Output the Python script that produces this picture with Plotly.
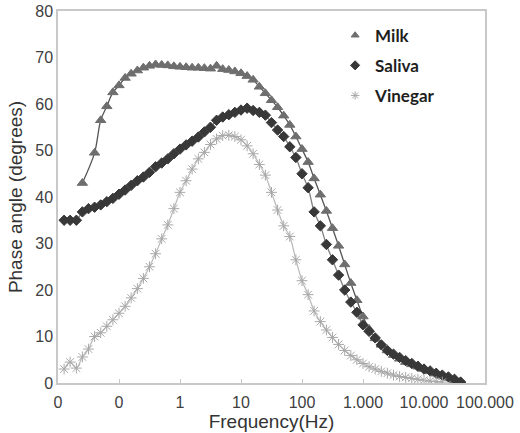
import plotly.graph_objects as go

# Frequency grid (Hz), 10 points per decade
freq = [0.01, 0.0126, 0.0158, 0.02, 0.0251, 0.0316, 0.0398, 0.0501, 0.0631, 0.0794,
        0.1, 0.126, 0.158, 0.2, 0.251, 0.316, 0.398, 0.501, 0.631, 0.794,
        1, 1.26, 1.58, 2, 2.51, 3.16, 3.98, 5.01, 6.31, 7.94,
        10, 12.6, 15.8, 20, 25.1, 31.6, 39.8, 50.1, 63.1, 79.4,
        100, 126, 158, 200, 251, 316, 398, 501, 631, 794,
        1000, 1259, 1585, 1995, 2512, 3162, 3981, 5012, 6310, 7943,
        10000, 12589, 15849, 19953, 25119, 31623, 39811]

milk_freq = [0.0251] + freq[6:]
milk = [43, 49.5, 56.5, 59.5, 62.5, 64, 65.6, 66.5, 67.2, 67.8,
        68.2, 68.5, 68.4, 68.3, 68.1, 68, 67.9, 67.8, 67.8, 67.7,
        67.6, 68.2, 67.5, 67.3, 67, 66.6, 66, 65.2, 63.7, 62.3,
        60.8, 59.3, 57.5, 55.5, 53, 50.3, 47.5, 44, 40.5, 37,
        33.3, 29.5, 25.5, 21.5, 17.8, 14.3, 11.6, 9.6, 8.2, 7,
        6, 5.2, 4.5, 4, 3.5, 3, 2.5, 2, 1.5, 1.1, 0.6, 0.2]

saliva_freq = freq[1:]
saliva = [35, 35, 35, 36.8, 37.5, 37.8, 38.3, 39, 39.7, 40.6,
          41.5, 42.5, 43.5, 44.3, 45.3, 46.5, 47.3, 48.2, 49.3, 50.3,
          51.2, 52, 52.9, 54, 55, 56.5, 57.2, 57.7, 58.2, 58.7,
          59.1, 58.6, 58.2, 57.6, 56, 54.4, 53, 50.8, 48.5, 45,
          42, 36.8, 33.8, 29.8, 26.5, 23.2, 20, 17.4, 15.2, 12.5,
          11.1, 9.7, 8.2, 7, 6.2, 5.5, 4.8, 4.2, 3.6, 3,
          2.6, 2.1, 1.7, 1.3, 0.8, 0.2]

vinegar_freq = freq[1:64]
vinegar = [3, 4.5, 3.2, 5.6, 7.3, 10, 10.8, 12.2, 13.6, 15,
           16.5, 18.3, 20.3, 22.5, 25, 27.8, 31, 34, 37.5, 41,
           43.5, 46, 48.2, 49.6, 51.3, 52.5, 53.2, 53.3, 53, 52.3,
           51, 49.3, 47, 44.7, 41, 37.2, 33.8, 31.5, 26.5, 22,
           19, 15.5, 13.2, 11.4, 9.8, 8.3, 7, 5.9, 5, 4.2,
           3.5, 3, 2.5, 2.1, 1.7, 1.4, 1.2, 1, 0.8, 0.6,
           0.4, 0.3, 0.2]

tick_vals = [0.01, 0.1, 1, 10, 100, 1000, 10000, 100000]
tick_text = ["0", "0", "1", "10", "100", "1.000", "10.000", "100.000"]

series = [
    ("Milk", milk_freq, milk, "#555555", "triangle-up", 9, "#6e6e6e"),
    ("Saliva", saliva_freq, saliva, "#808080", "diamond", 8, "#383838"),
    ("Vinegar", vinegar_freq, vinegar, "#bcbcbc", "asterisk-open", 9, "#a8a8a8"),
]

fig = go.Figure()

# fitted curves
for name, fx, fy, lc, sym, ms, mc in series:
    fig.add_trace(go.Scatter(
        x=fx, y=fy, mode="lines", showlegend=False, hoverinfo="skip",
        line=dict(color=lc, width=1.3, shape="spline", smoothing=0.9)))

# measured points
for name, fx, fy, lc, sym, ms, mc in series:
    fig.add_trace(go.Scatter(
        x=fx, y=fy, mode="markers", name=name, showlegend=False,
        marker=dict(symbol=sym, size=ms, color=mc, line=dict(color=mc, width=1))))

# legend entries (small symbols, as in the original)
for i, (name, fx, fy, lc, sym, ms, mc) in enumerate(series):
    fig.add_trace(go.Scatter(
        x=[None], y=[None], mode="markers", name=name, legendgroup=str(i),
        marker=dict(symbol=sym, size=7, color=mc, line=dict(color=mc, width=1))))

fig.update_layout(
    width=520, height=433,
    margin=dict(l=58, r=35, t=11, b=50),
    paper_bgcolor="white", plot_bgcolor="white",
    font=dict(family="Liberation Sans, Arial, sans-serif", size=16, color="#404040"),
    showlegend=True,
    legend=dict(x=0.649, y=0.982, xanchor="left", yanchor="top",
                font=dict(family="Lato, sans-serif", size=17, color="#1e1e1e", weight="bold"),
                tracegroupgap=5, itemwidth=30, bgcolor="rgba(0,0,0,0)"),
    xaxis=dict(type="log", range=[-2, 5], tickvals=tick_vals, ticktext=tick_text,
               showgrid=False, zeroline=False, showline=True, linecolor="#c8c8c8",
               linewidth=1.5, mirror=True, ticks="inside", ticklen=4, tickcolor="#c8c8c8",
               automargin=False, ticklabelstandoff=4,
               title=dict(text="Frequency(Hz)", standoff=4,
                          font=dict(size=19, color="#333333"))),
    yaxis=dict(range=[0, 80], dtick=10, showgrid=False, zeroline=False, showline=True,
               linecolor="#c8c8c8", linewidth=1.5, mirror=True, ticks="",
               automargin=False,
               title=dict(text="Phase angle (degrees)", standoff=8,
                          font=dict(size=19, color="#333333"))),
)

fig.write_html("out.html")
